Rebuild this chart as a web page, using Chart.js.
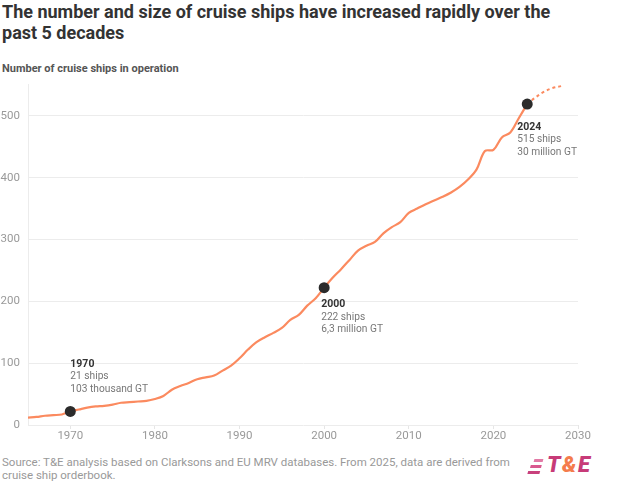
<!DOCTYPE html>
<html>
<head>
<meta charset="utf-8">
<title>Cruise ships</title>
<script src="https://cdn.jsdelivr.net/npm/chart.js@4.4.1/dist/chart.umd.min.js"></script>
<style>
  body { margin: 0; width: 632px; height: 489px; background: #fff; font-family: Roboto, sans-serif; position: relative; overflow: hidden; }
  #title { position: absolute; left: 2px; top: 1px; font-size: 18px; font-weight: 700; line-height: 21px; color: #333; white-space: nowrap; }
  #subtitle { position: absolute; left: 2px; top: 62px; font-size: 11px; font-weight: 700; color: #555; }
  #chartBox { position: absolute; left: 0; top: 70px; }
  #source { position: absolute; left: 2px; top: 456px; font-size: 11.5px; line-height: 13px; color: #999; white-space: nowrap; }
  #logo { position: absolute; left: 529px; top: 455px; height: 24px; }
  #logo .bars { position: absolute; left: 0; top: 4px; width: 12px; transform: skewX(-15deg); }
  #logo .bars span { display: block; height: 3px; margin-bottom: 3px; margin-left: auto; background: #d6558c; }
  #logo .bars span:nth-child(1) { width: 9px; background: #e27aa6; }
  #logo .bars span:nth-child(2) { width: 11px; background: #d9588f; }
  #logo .bars span:nth-child(3) { width: 12px; background: #c8407c; }
  #logo .word { position: absolute; left: 18px; top: -3px; font-size: 22px; font-weight: 900; font-style: italic; color: #c73b78; letter-spacing: 1.5px; white-space: nowrap; }
  #logo .word b { color: #f47c4c; font-weight: 900; }
</style>
</head>
<body>
<div id="title">The number and size of cruise ships have increased rapidly over the<br>past 5 decades</div>
<div id="subtitle">Number of cruise ships in operation</div>
<div id="chartBox"><canvas id="shipChart" width="593" height="377"></canvas></div>
<div id="source">Source: T&amp;E analysis based on Clarksons and EU MRV databases. From 2025, data are derived from<br>cruise ship orderbook.</div>
<div id="logo">
  <div class="bars"><span></span><span></span><span></span></div>
  <div class="word">T<b>&amp;</b>E</div>
</div>

<script>
// data
const years = [1965, 1966, 1967, 1968, 1969, 1970, 1971, 1972, 1973, 1974,
  1975, 1976, 1977, 1978, 1979, 1980, 1981, 1982, 1983, 1984,
  1985, 1986, 1987, 1988, 1989, 1990, 1991, 1992, 1993, 1994,
  1995, 1996, 1997, 1998, 1999, 2000, 2001, 2002, 2003, 2004,
  2005, 2006, 2007, 2008, 2009, 2010, 2011, 2012, 2013, 2014,
  2015, 2016, 2017, 2018, 2019, 2020, 2021, 2022, 2023, 2024];
const ships = [12, 13, 15, 16, 17, 22, 25, 28, 30, 31,
  33, 36, 37, 38, 39, 42, 47, 57, 63, 68,
  74, 77, 80, 88, 96, 108, 122, 134, 142, 149,
  157, 170, 178, 193, 205, 222, 238, 252, 267, 282,
  290, 296, 310, 320, 328, 343, 350, 357, 363, 369,
  376, 385, 397, 413, 443, 445, 465, 473, 496, 519];

// orderbook projection (dashed)
const projYears = [2024, 2025, 2026, 2027, 2028];
const projShips = [519, 530, 539, 545, 548];

// highlighted points and their notes
const markYears = [1970, 2000, 2024];
const markShips = [22, 222, 519];
const markShipText = ['21 ships', '222 ships', '515 ships'];
const markGtText = ['103 thousand GT', '6,3 million GT', '30 million GT'];

const xTicks = [1970, 1980, 1990, 2000, 2010, 2020, 2030];
const yTicks = [0, 100, 200, 300, 400, 500];

const lineColor = '#fb8a5f';

function toPoints(xs, ys) {
  return xs.map(function (x, i) { return { x: x, y: ys[i] }; });
}

// notes next to the black dots
const notesPlugin = {
  id: 'notes',
  afterDatasetsDraw: function (chart) {
    const ctx = chart.ctx;
    const sx = chart.scales.x;
    const sy = chart.scales.y;
    const dx = [0, -3, -10];
    const dy = [-47, 17, 23];
    ctx.save();
    ctx.textBaseline = 'middle';
    ctx.textAlign = 'left';
    markYears.forEach(function (yr, i) {
      const px = sx.getPixelForValue(yr) + dx[i];
      const py = sy.getPixelForValue(markShips[i]) + dy[i];
      ctx.font = '700 10.5px Roboto';
      ctx.fillStyle = '#333';
      ctx.fillText(String(yr), px, py);
      ctx.font = '400 10.2px Roboto';
      ctx.fillStyle = '#777';
      ctx.fillText(markShipText[i], px, py + 12.5);
      ctx.fillText(markGtText[i], px, py + 25);
    });
    ctx.restore();
  }
};

Chart.defaults.font.family = 'Roboto';

new Chart(document.getElementById('shipChart'), {
  type: 'line',
  data: {
    datasets: [
      {
        data: toPoints(markYears, markShips),
        showLine: false,
        pointRadius: 5.5,
        pointBackgroundColor: '#2b2b2b',
        pointBorderWidth: 0,
        order: 0
      },
      {
        data: toPoints(years, ships),
        borderColor: lineColor,
        borderWidth: 2.2,
        pointRadius: 0,
        tension: 0.35,
        order: 1
      },
      {
        data: toPoints(projYears, projShips),
        borderColor: lineColor,
        borderWidth: 2,
        borderDash: [3, 3],
        pointRadius: 0,
        tension: 0.35,
        order: 2
      }
    ]
  },
  options: {
    responsive: false,
    animation: false,
    layout: { padding: { top: 5, right: 15, left: 0, bottom: 0 } },
    plugins: { legend: { display: false }, tooltip: { enabled: false } },
    scales: {
      x: {
        type: 'linear',
        min: 1965,
        max: 2030,
        afterBuildTicks: function (axis) { axis.ticks = xTicks.map(function (v) { return { value: v }; }); },
        afterFit: function (axis) { axis.height = 22; },
        grid: { drawOnChartArea: false, drawTicks: true, tickLength: 4, color: '#e6e6e6' },
        border: { display: false },
        ticks: { color: '#999', font: { size: 11.5 }, padding: 0, maxRotation: 0, callback: function (v) { return String(v); } }
      },
      y: {
        min: 0,
        max: 550,
        afterBuildTicks: function (axis) { axis.ticks = yTicks.map(function (v) { return { value: v }; }); },
        afterFit: function (axis) { axis.width = 28; },
        grid: { color: '#ececec', drawTicks: false },
        border: { display: true, color: '#ececec' },
        ticks: { color: '#999', font: { size: 11.5 }, padding: 8 }
      }
    }
  },
  plugins: [notesPlugin]
});
</script>
</body>
</html>
